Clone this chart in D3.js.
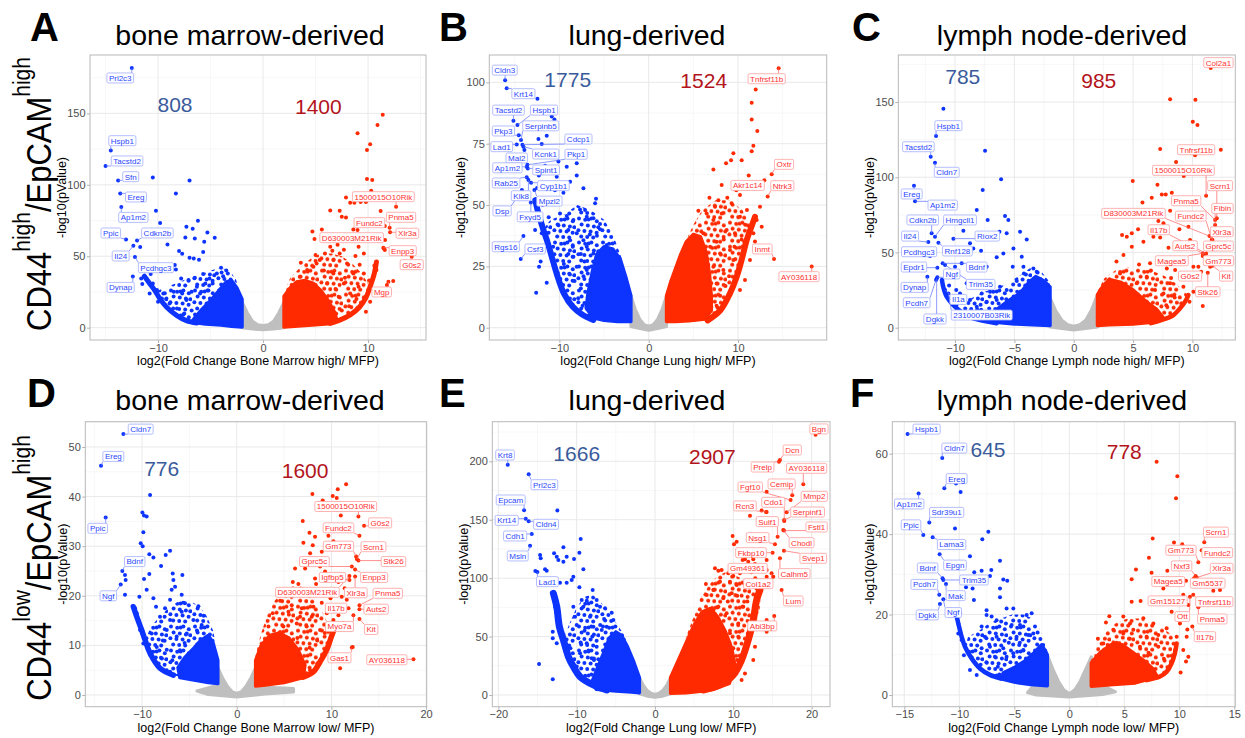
<!DOCTYPE html>
<html lang="en">
<head>
<meta charset="UTF-8">
<title>Volcano panels</title>
<style>
  body { margin: 0; background: #fff; }
  svg text { font-family: "Liberation Sans", Arial, sans-serif; }
</style>
</head>
<body>
<svg id="fig" width="1245" height="738"></svg>
<script src="https://d3js.org/d3.v7.min.js"></script>
<script>
// ---------- data (x = log2 fold change, y = -log10 p) ----------
const panelTitles = ["bone marrow-derived", "lung-derived", "lymph node-derived",
                     "bone marrow-derived", "lung-derived", "lymph node-derived"];
const xTitles = ["log2(Fold Change Bone Marrow high/ MFP)", "log2(Fold Change Lung high/ MFP)",
                 "log2(Fold Change Lymph node high/ MFP)", "log2(Fold Change Bone Marrow low/ MFP)",
                 "log2(Fold Change Lung low/ MFP)", "log2(Fold Change Lymph node low/ MFP)"];
const rowLabels = [["CD44", "high", "/EpCAM", "high"], ["CD44", "low", "/EpCAM", "high"]];

// count of down / up genes: [text, x, y]
const aCount = [["808", -8.38, 150.7], ["1400", 5.27, 149.6]];
const bCount = [["1775", -9.07, 98.0], ["1524", 6.16, 97.6]];
const cCount = [["785", -9.35, 162.0], ["985", 2.11, 159.5]];
const dCount = [["776", -7.92, 44.2], ["1600", 7.22, 43.7]];
const eCount = [["1666", -10.0, 200.3], ["2907", 7.32, 197.4]];
const fCount = [["645", -7.39, 59.1], ["778", 5.0, 58.8]];

// outlines: grey = not significant, halo = scattered cloud, core = solid cloud, arm = low-count ridge
// --- A
const aGrey = [[-2,18],[-1.5,10.5],[-1,4.5],[-0.5,2],[0,1.5],[0.5,2],[1,4.5],[1.5,10.5],[2,18],[2,0],[1,-1],[0,-1.5],[-1,-1],[-2,0]];
const aBlueHalo = [[-2,1],[-2,22],[-2.6,34],[-3.2,40],[-4,42],[-5,40],[-6,37],[-7,35],[-8,32],[-9,29],[-10,26],[-10.3,26],[-9.8,20],[-9.2,14.5],[-8.2,8.5],[-7.3,5],[-6.3,3.3],[-4.5,2],[-3,1.2]];
const aBlueCore = [[-2,0.5],[-2,20],[-2.5,28],[-3,33],[-3.5,32],[-4.2,26],[-5,19],[-5.8,13],[-6.5,7],[-6.8,4],[-5.5,2.5],[-4,1.8],[-3,1]];
const aBlueArm = [[-6.3,3.3],[-7.3,5],[-8.2,8.5],[-9.2,14.5],[-9.8,20],[-10.3,26],[-10.8,31],[-11.3,36]];
const aRedHalo = [[2,1],[2,25],[2.6,35],[3.5,42],[4.5,48],[5.5,52],[6.5,52],[7.5,50],[8.5,45],[9.4,38],[10.2,28.7],[9.8,21],[9.2,14.5],[8.3,9],[7.3,5.3],[6.4,3],[4.5,2],[3,1.2]];
const aRedCore = [[2,0.5],[2,22],[2.6,28],[3.2,32],[4,33],[4.8,31],[5.5,26],[6.2,19],[6.8,11],[7,6],[6.5,3],[5,2],[3,1]];
const aRedArm = [[6.4,3],[7.3,5.3],[8.3,9],[9.2,14.5],[9.8,21],[10.2,28.7],[10.6,38],[10.8,46]];
const aBluePts = [[-10.5,105.2],[-7,103.1],[-8.3,94],[-10.2,81.9],[-9.8,73.3],[-6.2,74.9],[-7.3,70.7],[-6.7,69.3],[-7.4,63.2],[-6.5,62.5],[-5.3,66.7],[-4.6,63],[-5.6,60.2],[-9.1,58.3],[-11.7,56.5],[-8,53.7],[-7.7,51.8],[-7,49],[-6.6,48.5],[-6.1,47.6],[-5.7,53],[-8.4,43.9],[-8.3,40.8],[-10.7,37.6],[-11.6,34.5],[-11.5,30.6],[-7.8,34.5],[-7.1,33.4],[-6.5,35],[-5.7,37.6],[-5.1,34.5],[-4.4,38],[-8.5,25.2],[-10.5,31],[-10.1,26.4],[-9.5,24],[-9.2,20.5],[-7.7,24],[-7.3,19.4],[-6.8,25.2],[-6.3,28.7],[-5.5,31],[-6,24],[-10.8,24],[-10,18.2],[-8.9,17],[-8.2,13.5],[-7.5,10],[-6.8,12],[-7.8,8],[-5.2,26],[-4.8,31],[-3.8,36],[-3.5,40],[-4,42]];
const aRedPts = [[11.4,149.1],[10.9,141.9],[9,136.1],[10.2,128.4],[9.9,124.4],[9.9,104.1],[10.4,103.4],[10.3,95.9],[7.9,91.2],[8.3,87.5],[8.7,87.5],[9.3,88],[9.8,88],[6.4,82.1],[7.3,81.9],[7.5,77.7],[7.9,77.2],[11.2,81.7],[8.6,68.8],[9,68.4],[4.7,67.4],[5.6,68.8],[4.9,62.1],[6.8,61.8],[7.1,58.1],[6.6,53.9],[7.7,54.6],[11.5,55.5],[11.6,54.4],[3.6,45.5],[5,50.9],[5.1,45],[8.8,50.2],[10.6,43.4],[10.8,40.4],[12.4,32.7],[11.8,29.9],[10.2,18.2],[9.8,11.2],[10,26.4],[2.9,29.6],[3.5,35.7],[4.2,40.4],[4.8,42.7],[5.4,47.4],[5.9,52],[6.4,56.7],[6.7,47.4],[7.3,52],[8,45],[8.6,38],[6.7,38],[6.1,31],[7.7,31],[9.1,28.7],[8.3,24],[7.2,21.7],[5.4,19.4],[4.6,28.7],[9.6,38],[8.1,61.4],[9.1,56.7],[9.6,52],[7.5,12],[8.2,15],[6.5,14],[7.8,35],[9.2,44],[10.1,33],[5.8,40],[6.9,27],[8.9,20]];
// [gene, point x, point y, label x, label y]
const aBlueLab = [["Prl2c3",-12.5,181.8,-13.6,174.8],["Hspb1",-14.5,124.1,-13.4,130.9],["Tacstd2",-15,113.2,-12.95,116.7],["Sfn",-13.8,103.1,-12.6,105.7],["Ereg",-13.6,94,-12.1,91.5],["Ap1m2",-13.5,84.5,-12.35,77.2],["Ppic",-13.05,61.8,-14.5,66.3],["Cdkn2b",-12,61.1,-10.06,66.3],["Il24",-12.35,57.4,-13.56,50.2],["Pcdhgc3",-12.2,49.5,-10.2,42],["Dynap",-12.4,35.9,-13.56,28.2]];
const aRedLab = [["1500015O10Rik",12.67,84.7,11.46,91.7],["Fundc2",11.6,71.2,10.13,73.5],["Pnma5",12.06,70,13.14,77.3],["Xlr3a",12.1,66.8,13.75,66.1],["D630003M21Rik",11.62,61.4,8.44,63],["Enpp3",11.46,56,13.3,53.9],["G0s2",14.16,49.7,14.16,44.1],["Mgp",11.94,32.2,11.3,25]];

// --- B
const bGrey = [[-2,13],[-1.5,7.5],[-1,3.5],[-0.5,1.2],[0,0.6],[0.5,1.2],[1,3.5],[1.5,7.5],[2,13],[2,0.5],[1,-0.3],[0,-1],[-1,-0.3],[-2,0.5]];
const bBlueHalo = [[-2,2],[-2,15],[-3,28],[-4,38],[-5,44],[-6.5,48],[-8,50],[-9.5,46],[-11,44],[-11.8,40],[-11.3,35],[-10.86,29],[-10.3,22],[-9.5,14],[-8.5,8.5],[-7.5,5.5],[-6.2,3.2],[-4,2.5]];
const bBlueCore = [[-2,2.5],[-2,13],[-2.6,21],[-3.2,28],[-4,32],[-5,33],[-5.8,30],[-6.3,23],[-6.8,14],[-7,8],[-6.2,4],[-5,3],[-3.5,2.5]];
const bBlueArm = [[-6.2,3.2],[-7.5,5.5],[-8.5,8.5],[-9.5,14],[-10.3,22],[-10.86,29],[-11.3,34.5],[-11.8,40],[-12.35,46.6],[-12.7,52]];
const bRedHalo = [[2,2.5],[2,14],[3,25],[4,34],[5,42],[6,48],[7.5,52],[9,52],[10.5,48],[11.5,41.2],[10.97,35.7],[10.4,27.6],[9.85,20.8],[9.1,14],[8,7],[6.6,3],[4.5,2.8]];
const bRedCore = [[2,2.5],[2,13],[2.5,19],[3,24],[3.6,30],[4.2,35],[5,38],[5.8,37],[6.4,31],[6.8,22],[7,13],[7,7],[6.3,3.5],[4.5,2.8],[3,2.5]];
const bRedArm = [[6.6,3],[8,7],[9.1,14],[9.85,20.8],[10.4,27.6],[10.97,35.7],[11.5,41.2],[11.9,45.2]];
const bBluePts = [[-12.46,93.3],[-10.86,86.1],[-10.56,84.9],[-12.35,76.9],[-11.42,78.3],[-11.98,74.9],[-10.11,67.8],[-8.06,67],[-9.18,65.6],[-10.3,61.5],[-8.06,62],[-8.8,59.5],[-9.55,55],[-7.31,56.8],[-5.9,52.6],[-6,50.7],[-7.69,48.2],[-7.13,48],[-9.93,46.6],[-9.18,45.5],[-8.43,43.9],[-6.94,45.2],[-6.19,44.6],[-5.45,42.3],[-5.45,40.1],[-10.11,41.8],[-9,39.8],[-8.06,38.5],[-7.31,35.7],[-6.94,33],[-8.8,35.7],[-12.72,39.8],[-11.98,38.5],[-12.28,24.9],[-11.42,18.3],[-12.6,14.3],[-8.43,28.9],[-6.19,30.3],[-4.7,33.7],[-4.33,31.7],[-8.06,24.9],[-6.94,23.5],[-9,30],[-8.5,33],[-7.6,30],[-7.2,27],[-8.9,22],[-8.3,19],[-7.6,16],[-7.3,21],[-9.5,26],[-7.9,12],[-7.4,9],[-6.6,38],[-5.8,37.5],[-10.7,33],[-11.2,45],[-11.9,50],[-12.5,57],[-12.3,62],[-11.6,66],[-10.5,56],[-12.1,27],[-11.8,31]];
const bRedPts = [[7.24,64.5],[8.66,67],[9.22,68.3],[9.48,71.1],[10.41,68.3],[11.53,91.7],[11.98,97.1],[11.53,84.9],[12.16,80.2],[11.72,74.2],[11.53,71.9],[8.17,58.2],[10.22,54.1],[9.29,50.7],[7.43,49.3],[5.56,47.7],[6.49,46.6],[7.24,43.9],[8.17,46.6],[8.73,39.8],[9.66,38.5],[10.22,45.2],[12.09,43.9],[12.65,41.2],[12.46,49.3],[11.72,38.5],[11.9,35.1],[6.12,38.5],[6.87,33],[7.99,30.3],[9.1,31.7],[7.24,24.9],[8.36,23.5],[9.48,27.6],[11.34,27.6],[10.78,19.4],[10.22,15.4],[5,27.6],[4.63,24.9],[7.6,18],[8,13],[7.6,9],[8.6,17],[9,21],[6.6,28],[7.6,35],[8.4,36],[9.6,33],[10.4,36],[10.8,42],[11,48],[9.8,56],[8.8,53],[7.8,52],[6.8,53],[10.8,58],[11.2,62]];
const bBlueLab = [["Cldn3",-16.08,100.9,-16.12,105],["Krt14",-15.9,97.6,-14.03,95.4],["Tacstd2",-15.15,84.4,-15.7,88.7],["Hspb1",-14.7,82.6,-11.72,88.7],["Pkp3",-14.55,78.5,-16.27,80.2],["Serpinb5",-14.3,76.5,-12.09,82.3],["Lad1",-14.78,74.7,-16.46,73.8],["Cdcp1",-14.14,74.6,-7.87,76.9],["Kcnk1",-14.03,73.8,-11.53,70.8],["Mal2",-13.92,72.4,-14.78,69.2],["Pkp1",-13.58,66.4,-8.13,70.7],["Ap1m2",-13.66,65.6,-15.82,65.2],["Spint1",-13.54,64.9,-11.49,64.3],["Rab25",-13.66,61.3,-15.97,59],["Cyp1b1",-13.17,59.1,-10.67,57.9],["Klk8",-13.47,60.2,-14.29,53.8],["Dsp",-14.2,56.1,-16.42,47.6],["Mpzl2",-12.8,56.1,-11.12,51.6],["Fxyd5",-13.2,51,-13.28,45.2],["Rgs16",-14.03,37.4,-16,33],["Csf3",-14.33,28,-12.72,32.1]];
const bRedLab = [["Tnfrsf11b",14.55,105.8,13.21,101.5],["Oxtr",13.77,62.6,15.15,66.6],["Akr1c14",12.95,60.1,11.08,58],["Ntrk3",13.32,53.5,14.96,57.9],["Inmt",14.03,28,12.72,32.1],["AY036118",18.25,25,16.83,20.8]];

// --- C
const cGrey = [[-2,20],[-1.5,11],[-1,5],[-0.5,2],[0,1],[0.5,2],[1,5],[1.5,12],[2,22],[2,0.5],[1,-0.5],[0,-1.5],[-1,-0.5],[-2,0.5]];
const cBlueHalo = [[-2,1.5],[-2,30],[-2.8,38],[-3.6,40],[-4.5,35],[-5.5,30],[-6.5,26],[-7.5,24],[-8.5,20],[-9.5,16],[-10.3,15],[-9.3,9.5],[-8.46,6.2],[-6.5,3],[-4,2]];
const cBlueCore = [[-2,1.5],[-2,27],[-2.5,31],[-3.2,34],[-3.8,30],[-4.5,23],[-5.5,18],[-6.5,12],[-7,7],[-7,4],[-5,2.5],[-3.5,2]];
const cBlueArm = [[-6.5,3],[-8.46,6.2],[-9.3,9.5],[-10.14,15],[-10.7,20.6],[-11,27.3],[-11.1,31.7]];
const cRedHalo = [[2,1.5],[2,24],[2.6,33],[3.5,38],[4.5,40],[5.5,40],[6.5,38],[7.5,35],[8.5,30],[9.3,24],[9.66,21.7],[9.38,17.3],[8.96,12.9],[8.4,8.4],[7.56,5.5],[6.5,3],[4,2]];
const cRedCore = [[2,1.5],[2,22],[2.5,28],[3,32],[4,30],[5,25],[6,18],[7,12],[7.5,7],[7,4],[5,2.5],[3,2]];
const cRedArm = [[6.5,3],[7.56,5.5],[8.4,8.4],[8.96,12.9],[9.38,17.3],[9.66,21.7]];
const cBluePts = [[-10.98,145.6],[-7.47,117.7],[-6.12,98.6],[-7.67,91.5],[-8.17,78.2],[-7.25,71.6],[-5.79,74.2],[-5.51,71.6],[-6.26,63.8],[-5.65,62.7],[-4.52,63.8],[-3.96,58.7],[-9.3,64.5],[-8.74,56.1],[-8.46,52.7],[-7.81,51.2],[-5.08,52.7],[-4.38,47.2],[-6.49,46.8],[-5.93,49.4],[-7.33,40.5],[-5.14,40.5],[-4.24,40.5],[-3.4,39.4],[-3.12,37.2],[-10,40.5],[-9.44,42.8],[-10.14,33.9],[-9.02,29.5],[-7.75,22.8],[-7.05,23.9],[-6.21,27.3],[-5.65,25],[-6.49,18.4],[-7.33,17.3],[-8.17,14],[-8.74,18.4],[-9.58,22.8],[-8.46,9.5],[-10.5,28],[-9.9,25],[-9.2,19],[-7.8,12],[-6.9,30],[-4.8,31],[-4.2,36]];
const cRedPts = [[8.12,151.8],[10.25,151.6],[10.03,136.9],[10.42,134.7],[7.28,118.8],[12.39,118.3],[8.62,110.1],[9.27,100.8],[4.97,97.5],[7.05,95.1],[7.42,88.6],[7.75,88.6],[8.26,89.7],[5.79,83.3],[6.57,86.4],[8.12,77.8],[7.13,70.9],[7.56,69.4],[8.9,65.4],[9.66,67.1],[5.42,65.4],[4.07,61.6],[4.47,60.5],[4.89,62.7],[6.71,60.5],[7.28,60],[5.87,57.2],[4.89,53.8],[4.19,48.3],[7.98,53.2],[9.24,53.8],[9.8,58.3],[7.13,45],[6.43,42.8],[7.84,39.4],[8.54,38.3],[10.08,40.5],[10.5,40.5],[8.12,29.5],[9.24,27.3],[10.08,23.9],[9.75,17.3],[10.87,14.4],[6.15,33.9],[5.31,29.5],[3.9,36.1],[3.34,30.6],[7.56,22.8],[6.85,25],[8.5,20],[7.8,15],[6.5,38],[5.5,42],[3.6,44],[8.2,33]];
const cBlueLab = [["Hspb1",-11.6,127.4,-10.56,134.3],["Tacstd2",-12.05,113.7,-13.09,120.3],["Cldn7",-11.69,109.7,-10.7,103.3],["Ereg",-13.46,94.4,-13.65,88.9],["Ap1m2",-13.37,84,-11.04,81.5],["Cdkn2b",-11.97,62.7,-12.72,71.6],["Hmgcll1",-11.69,60.5,-9.58,71.6],["Il24",-12.25,56.9,-13.79,60.9],["Riox2",-10.14,59.2,-7.28,60.9],["Pcdhgc3",-12.11,47.6,-13.03,50.5],["Rnf128",-11.4,56.5,-9.8,51],["Epdr1",-11.49,39.9,-13.46,40.3],["Bdnf",-11.04,42.8,-8.17,40.3],["Ngf",-11.49,33.5,-10.28,35.7],["Trim35",-10.84,41.7,-7.84,28.8],["Dynap",-12.33,33.9,-13.4,26.8],["Pcdh7",-11.6,31.7,-13.23,16.6],["Il1a",-10.84,25,-9.72,18.8],["2310007B03Rik",-10.56,22.8,-7.75,8.4],["Dgkk",-11.55,32.5,-11.69,5.8]];
const cRedLab = [["Col2a1",11.54,172.6,12.19,176.2],["Tnfrsf11b",10.22,114.6,10.31,118.3],["1500015O10Rik",11.15,87.7,9.24,104.6],["Scrn1",12.05,72.7,12.33,94.4],["Pnma5",11.91,71.6,9.47,84.4],["Fibin",11.91,68.2,12.53,79.3],["D830003M21Rik",11.43,60.9,5.03,76],["Fundc2",11.63,58.7,9.86,74.2],["Il17b",11.15,49.4,7.16,65.1],["Xlr3a",11.69,58.3,12.47,63.8],["Auts2",11.01,49,9.38,54.5],["Gprc5c",10.87,47.6,12.19,54.3],["Magea5",10.87,49.4,8.26,44.5],["Gm773",11.49,40.5,12.19,44.5],["G0s2",10.73,37.2,9.8,34.3],["Kit",11.69,41.2,12.84,34.3],["Stk26",11.29,36.6,11.29,23.9]];

// --- D
const dGrey = [[-4.2,0.8],[-2,2],[-2,5.5],[-1.5,3.5],[-1,1.8],[-0.5,0.7],[0,0.3],[0.5,0.7],[1,1.8],[1.5,3.5],[2,5.5],[2,1.8],[4,1.5],[6,1.3],[6,0.6],[3,0.2],[0,-0.4],[-3,0.1]];
const dBlueHalo = [[-2,2.3],[-2,8],[-2.5,13],[-3.2,16],[-4,18],[-5,19],[-6,19],[-7,18],[-8,16],[-9,14],[-9.68,11.1],[-9.15,8.4],[-8.1,5.4],[-6.69,4],[-4.5,3]];
const dBlueCore = [[-2,2.3],[-2,7],[-2.5,10.5],[-3,12],[-3.8,11],[-4.5,9.5],[-5.5,7.5],[-6.2,5.5],[-6,3.5],[-4.5,3],[-3,2.5]];
const dBlueArm = [[-6.69,4],[-8.1,5.4],[-9.15,8.4],[-9.68,11.1],[-10.04,13.1],[-10.56,15.8],[-10.92,17.8]];
const dRedHalo = [[2,1.8],[2,8],[2.5,12],[3.2,16],[4,19],[5,21],[6,22],[7,22],[8,20],[9,17],[9.7,14],[10.2,12.8],[10,11.8],[9.5,9.1],[8.8,6.7],[8.1,4.7],[7,3.6],[5,2.5]];
const dRedCore = [[2,1.8],[2,7],[2.6,10],[3.5,12],[4.5,12.5],[5.5,11.5],[6.5,9],[7.2,6],[7,3.5],[5,2.5],[3,2]];
const dRedArm = [[7,3.6],[8.1,4.7],[8.8,6.7],[9.5,9.1],[10,11.8],[10.2,12.8]];
const dBluePts = [[-9.15,40.3],[-9.96,36.8],[-9.79,36.2],[-9.51,36],[-9.86,32.8],[-10.14,30.6],[-9.93,30],[-9.23,28.4],[-8.8,27.7],[-7.5,28.2],[-7.04,29.1],[-7.99,26],[-11.8,24.2],[-11.73,23.2],[-11.8,20.2],[-9.23,24.4],[-6.76,24.5],[-5.74,24.2],[-9.79,23.4],[-6.69,23.2],[-6.87,21.2],[-6.51,21.8],[-9.51,21.2],[-10.28,19.8],[-8.8,19.5],[-8.52,17.8],[-7.57,17.5],[-7.04,19.2],[-5.81,20.2],[-5.46,18.5],[-4.05,17.9],[-5.81,16.8],[-10.74,17.5],[-10.56,16.5],[-10.39,15.1],[-8.1,15.8],[-7.04,15.1],[-4.58,15.1],[-3.7,14.1],[-10.21,13.1],[-8.98,12.4],[-7.39,13.1],[-6.34,11.8],[-5.28,12.4],[-9.86,10.4],[-8.45,9.7],[-7.39,9.1],[-9.15,8.1],[-8.45,6.4],[-7.39,5],[-7.04,4.7],[-6,9],[-6.8,7],[-5.5,10.5],[-4.2,13],[-3.5,16],[-7.8,11],[-8,7.5]];
const dRedPts = [[11.55,42.5],[10.67,41.5],[10.14,40.1],[10.56,39.7],[7.99,40.5],[9.08,39.2],[10.99,36.2],[6.97,35.1],[7.68,32.7],[8.27,31.9],[9.68,32.1],[10.21,31],[7.04,30.7],[8.03,30.2],[8.98,28.9],[7.75,28.6],[6.16,25.5],[7.22,25.5],[8.8,25.9],[9.33,24.9],[5.92,22.8],[6.51,22.4],[8.27,23.5],[8.38,22.4],[7.04,21.2],[7.57,20.2],[8.8,21.2],[10.74,22.8],[11.09,19.8],[11.62,19.2],[4.58,19],[5.81,18.1],[6.87,17.5],[8.1,17.8],[8.98,18.6],[3.8,16.5],[5.46,16.8],[6.69,15.8],[7.92,15.8],[9.51,16.5],[10.21,15.1],[10.74,16.1],[3.35,13.8],[4.93,13.8],[6.34,14.4],[7.39,13.8],[8.8,13.1],[12.25,9.7],[10.92,5.4],[7.75,5],[8.5,11],[9.3,12.5],[10.6,13.5],[11.2,14.5],[7.7,9.5],[6.4,11.5],[9.9,19.5],[11.4,21.5]];
const dBlueLab = [["Cldn7",-11.97,52.6,-10.14,53.6],["Ereg",-14.33,46.2,-13.03,48.1],["Ppic",-13.84,35.8,-14.68,33.6],["Bdnf",-12.08,25,-10.77,26.9],["Ngf",-12.25,22.3,-13.56,20]];
const dRedLab = [["1500015O10Rik",12.85,36,11.51,38],["G0s2",13.45,34.1,15.14,34.7],["Fundc2",12.96,32.1,10.74,33.7],["Gm773",12.61,27.9,10.74,30],["Scrn1",12.68,27.4,14.44,29.9],["Stk26",12.85,27.1,16.55,26.9],["Gprc5c",12.15,25.9,8.2,26.9],["Enpp3",12.5,25.3,14.51,23.7],["Igfbp5",11.9,23.2,10.11,23.7],["D630003M21Rik",11.9,24,7.46,20.7],["Xlr3a",12.5,23.9,12.57,20.6],["Pnma5",12.96,18.1,15.95,20.5],["Il17b",11.8,17.5,10.49,17.5],["Auts2",12.96,17.3,14.72,17.3],["Myo7a",12.32,16.1,10.85,13.8],["Kit",12.96,15.3,14.19,13.2],["Gas1",12.15,9.6,10.85,7.5],["AY036118",18.66,7.2,15.85,7.1]];

// --- E
const eGrey = [[-2,15],[-1.5,8.5],[-1,4],[-0.5,1.5],[0,0.5],[0.5,1.5],[1,4],[1.5,8.5],[2,15],[2,1],[1,-1],[0,-2],[-1,-1],[-2,1]];
const eBlueHalo = [[-2,2],[-2,15],[-3,35],[-4,52],[-5,62],[-6,72],[-7,80],[-8,86],[-9,84],[-10,75],[-11,60],[-11.7,47.1],[-11.06,32.8],[-10.43,24.3],[-9.57,15.7],[-7.87,8.6],[-6.17,4.3],[-4,3]];
const eBlueCore = [[-2,2],[-2,15],[-2.7,28],[-3.5,41],[-4.3,51],[-5,54],[-5.8,49],[-6.5,37],[-7.3,24],[-8,12],[-7.5,5],[-5,3.5],[-3,2.5]];
const eBlueArm = [[-6.17,4.3],[-7.87,8.6],[-9.57,15.7],[-10.43,24.3],[-11.06,32.8],[-11.7,47.1],[-12.21,58.5],[-12.55,75.6],[-12.98,87]];
const eRedHalo = [[2,1.5],[2,15],[3,32],[4,50],[5,68],[6,85],[7,95],[8,102],[9,105],[10,103],[11,100],[12,95],[13,92],[13.6,90],[13.4,75],[12.9,60],[12.2,45],[11.4,30],[10.5,18],[9,9],[7.5,5],[5,3]];
const eRedCore = [[2,1.5],[2,15],[3,30],[4,45],[5,60],[6,71],[7,74],[8,67],[9,54],[9.8,40],[10.2,25],[9.5,10],[7.5,5],[5.5,3],[4,2]];
const eRedArm = [[6.17,4.3],[8.3,8.6],[10,17.1],[11.06,30],[11.91,47.1],[12.55,64.2],[12.98,81.3],[13.4,89.9]];
const eBluePts = [[-12.47,157.8],[-9.49,133.5],[-11.7,126.4],[-9.66,121.8],[-12.89,121.3],[-12.55,118.4],[-12.34,115.5],[-11.7,114.1],[-11.28,118.4],[-10.34,116.4],[-9.15,107.6],[-14.68,119.8],[-14.6,117],[-14.04,107.6],[-13.83,106.4],[-15.28,106.1],[-12.13,96.1],[-11.28,96.1],[-10.64,98.4],[-10.43,101.3],[-9.66,92.2],[-7.96,89.9],[-9.36,81.3],[-8.72,80.7],[-7.45,81.3],[-7.02,75.6],[-6.38,74.2],[-5.53,70.5],[-5.32,64.2],[-9.15,75.6],[-8.3,67],[-10.43,75.6],[-10.21,67],[-12.98,87],[-12.77,75.6],[-12.55,69.9],[-12.13,58.5],[-13.06,54.2],[-13.06,48.5],[-12.55,44.2],[-11.49,45.6],[-14.81,26.5],[-13.06,13.4],[-7.87,58.5],[-6.81,55.6],[-6.17,58.5],[-8.72,44.2],[-7.45,41.4],[-9.57,35.7],[-8.09,31.4],[-10,24.3],[-7,60],[-6.5,65],[-8,50],[-9,55],[-10,60],[-9.5,45],[-8.5,38],[-10.8,40],[-7.8,30],[-6.8,22]];
const eRedPts = [[9.91,136.1],[10.43,131.2],[10.09,129],[12.13,153.5],[13.62,157.8],[14.17,156.6],[14.26,174],[11.19,115.5],[11.49,116.1],[11.91,114.1],[12.55,116.1],[12.77,112.1],[14.26,115.5],[7.66,108.4],[8.09,106.4],[8.51,107],[9.36,104.1],[10,101.9],[10.85,104.1],[9.57,97],[10.43,94.2],[8.3,97],[7.45,89.9],[6.6,85.6],[8.72,82.7],[9.79,87],[11.28,75.6],[5.96,81.3],[7.45,72.8],[9.15,69.9],[10.64,61.3],[6.6,61.3],[8.3,58.5],[9.57,52.8],[10.64,49.9],[14.26,64.2],[14.26,54.2],[12.77,41.4],[12.55,30],[11.49,18.5],[11.06,12.8],[14.26,101.3],[15.11,101.3],[7,55],[8.5,45],[9,35],[10,40],[10.5,30],[7.5,90],[6.5,95],[8,75],[9.3,80],[10.5,85],[11.5,95],[12.3,105],[12.8,100],[13.5,108],[11.8,80]];
const eBlueLab = [["Krt8",-18.81,197.1,-19.15,205.4],["Prl2c3",-16.13,188.9,-14.13,180],["Epcam",-16.72,158.1,-18.43,166.9],["Krt14",-16.51,150.9,-18.94,149.5],["Cldn4",-16.13,148.6,-13.91,146.1],["Cdh1",-15.74,137.8,-17.87,136.1],["Msln",-15.96,127.8,-17.53,119],["Lad1",-15.02,105.3,-13.74,97]];
const eRedLab = [["Bgn",20.51,222.8,20.94,227.7],["Dcn",15.96,201.1,17.53,209.7],["Prelp",15.83,199.7,13.74,195.1],["AY036118",18.94,180.3,19.36,194],["Cemip",17.53,170.9,16.17,180.6],["Fgf10",17.32,166.9,12.17,178],["Mmp2",16.81,156.3,20.34,170],["Cdo1",16.51,148.9,15.11,164.9],["Rcn3",14.26,156.6,11.49,161.8],["Serpinf1",16.51,149.8,19.49,156.6],["Sulf1",15.66,135.5,14.34,148.4],["Fstl1",16.47,140.7,20.64,143.8],["Nsg1",15.32,129,13.11,134.7],["Chodl",16.38,141.2,18.72,130.4],["Fkbp10",15.02,121.8,12.26,121.8],["Svep1",16.47,123.5,20.21,117],["Gm49361",14.26,107,11.83,108.4],["Calhm5",15.96,117,17.79,103.9],["Col1a2",14.89,104.1,13.19,95.3],["Lum",16.17,89.9,17.66,80.5],["Abi3bp",15.23,67.6,13.7,59.1]];

// --- F
const fGrey = [[-3.8,0.6],[-3.3,2.2],[-2,2.4],[-2,10],[-1.5,6.5],[-1,3.5],[-0.5,1.3],[0,0.3],[0.5,1.3],[1,3.5],[1.5,6.5],[2,9.5],[2,2.2],[3.3,2],[4.2,0.8],[3,0.1],[0,-0.5],[-3,0]];
const fBlueHalo = [[-2,2.3],[-2,11],[-2.6,16],[-3.3,19],[-4.2,20],[-5.2,20],[-6.2,19],[-7.2,18],[-8.2,16],[-9.2,14.5],[-9.48,12],[-8.88,9.1],[-8.12,6.6],[-7.21,5],[-6.21,4.1],[-4,2.8]];
const fBlueCore = [[-2,2.3],[-2,10],[-2.5,12.5],[-3.2,10.5],[-4,8.5],[-5,6.8],[-6,5.5],[-6.2,4],[-5,3.2],[-3.5,2.6]];
const fBlueArm = [[-6.21,4.1],[-7.21,5],[-8.12,6.6],[-8.88,9.1],[-9.48,12],[-9.79,14.5],[-10.09,17.8],[-10.3,20.3]];
const fRedHalo = [[2,2.2],[2,9],[2.6,13],[3.4,16],[4.3,18],[5.3,19],[6.3,19],[7.3,18],[8.3,17],[9.3,15],[9.76,12.8],[9.6,10.4],[9.3,7.9],[8.85,5.8],[8.24,4.6],[7.03,3.7],[5,2.8]];
const fRedCore = [[2,2.2],[2,8],[2.8,10.5],[3.8,12.5],[4.8,12.5],[5.8,10.5],[6.8,8.5],[7.6,6.5],[8,4.5],[6,3],[4,2.6]];
const fRedArm = [[7.03,3.7],[8.24,4.6],[8.85,5.8],[9.3,7.9],[9.6,10.4],[9.76,12.8]];
const fBluePts = [[-9.88,50.5],[-10.3,52.6],[-10.39,41.4],[-7.36,40.6],[-7.91,38.7],[-9.03,34.5],[-8.64,30.5],[-7.97,30.9],[-7.09,31.1],[-7.21,29.6],[-6.3,33.4],[-6,28.7],[-5.64,28.4],[-6.3,26.5],[-6.3,24.3],[-9.39,26.8],[-8.79,26.5],[-8.67,23.6],[-7.52,21.1],[-7.52,19.9],[-7.06,19.5],[-6.61,18.6],[-5.7,21.5],[-5.09,21.5],[-3.88,19.9],[-3.42,20.3],[-5.76,17.8],[-5.24,17.4],[-4.48,17.4],[-7.97,17],[-7.67,14.5],[-6.61,14.5],[-4.79,14.5],[-3.73,14.9],[-3.27,15.3],[-7.97,11.6],[-7.21,12],[-6,11.6],[-6.76,9.5],[-5.7,9.5],[-5.09,10.4],[-4.18,11.2],[-9.94,20.3],[-10.09,17.8],[-10.09,15.3],[-9.79,13.7],[-9.58,9.9],[-9.03,6.2],[-8.42,5],[-6.5,7],[-7.5,8],[-4.5,13],[-5.5,13]];
const fRedPts = [[7.94,58],[9.82,54.4],[9.7,48.9],[7.58,38.9],[9.52,37.9],[10.27,37.5],[7.24,34.1],[6.06,31.2],[7.48,30.4],[8.91,30.9],[5.67,28.8],[8.55,26.5],[10.36,24.9],[13.09,25.9],[13.7,26.1],[5.67,23.2],[6.48,23.4],[8.55,23.8],[9.3,20.7],[10.06,17.8],[10.73,16.3],[3.64,19.6],[3.33,18],[4.91,19.5],[5.52,17.8],[6.73,19.1],[7.64,17.8],[8.85,16.6],[9.76,14.5],[10.67,14.5],[4,16.2],[4.91,15.3],[5.82,16.2],[7.03,14.5],[8.09,14.9],[3.09,12.8],[4.3,13],[6.42,12],[8.09,12],[9.61,11.2],[10.36,11.2],[10.82,9.5],[10.61,8.3],[10.12,5.6],[7.2,10.5],[8.6,9],[5.5,14],[2.6,14]];
const fBlueLab = [["Hspb1",-14.7,64.9,-12.97,66.1],["Cldn7",-11.55,58.9,-10.45,61.4],["Ereg",-11.36,51.4,-10.24,53.8],["Ap1m2",-13.7,50.1,-14.55,47.5],["Sdr39u1",-12.73,42.9,-11.15,45.4],["Ppic",-13.27,39.8,-14.39,42.3],["Lama3",-12.42,39.2,-10.7,37.4],["Bdnf",-11.52,29,-12.88,31.6],["Epgn",-11.79,35,-10.39,32.3],["Trim35",-11.45,28.6,-8.67,28.6],["Pcdh7",-11.82,24.9,-13.18,27.5],["Mak",-11.21,27.6,-10.33,24.7],["Dgkk",-11.76,22.6,-12.91,19.9],["Ngf",-11.45,23.8,-10.55,20.5]];
const fRedLab = [["Scrn1",12.27,38,13.33,40.5],["Gm773",11.73,33,10.15,36],["Fundc2",12.03,36,13.45,35.4],["Nxf3",11.48,29.6,10.21,32.1],["Xlr3a",11.58,29.2,13.85,31.5],["Magea5",10.61,28.4,9,28.2],["Gm5537",11.33,29,12.58,27.8],["Gm15127",10.82,22.4,8.94,23.4],["Tnfrsf11b",11.27,24.9,13.18,23.2],["Ott",10.97,24.4,10.27,19.5],["Pnma5",11.73,21.8,13,18.9],["Il17b",11.18,17,12.33,14.5]];

// ---------- layout ----------
const BLUE = "#0d34ff", RED = "#ff2a00", GREY = "#bfbfbf";
const labStyle = {
  blue: { text: "#2a46ff", box: "#a3adff", seg: "#5a70ff" },
  red:  { text: "#ff3030", box: "#ffa0a0", seg: "#ff6060" }
};

const panels = [
  { key: "A", box: [90, 55, 426, 340], xd: [-16.48, 15.52], yd: [-8.61, 190.87], xt: [-10, 0, 10], yt: [0, 50, 100, 150],
    tx: 250, ty: 45, lx: 30, ly: 40.7, ylabX: 66, armW: 5,
    grey: aGrey, bh: aBlueHalo, bc: aBlueCore, ba: aBlueArm, rh: aRedHalo, rc: aRedCore, ra: aRedArm, bp: aBluePts, rp: aRedPts, bl: aBlueLab, rl: aRedLab, n: aCount },
  { key: "B", box: [489.3, 55, 826.7, 340], xd: [-17.85, 19.93], yd: [-5.01, 111.17], xt: [-10, 0, 10], yt: [0, 25, 50, 75, 100],
    tx: 647, ty: 45, lx: 439, ly: 40.7, ylabX: 465, armW: 6,
    grey: bGrey, bh: bBlueHalo, bc: bBlueCore, ba: bBlueArm, rh: bRedHalo, rc: bRedCore, ra: bRedArm, bp: bBluePts, rp: bRedPts, bl: bBlueLab, rl: bRedLab, n: bCount },
  { key: "C", box: [898.3, 55, 1235.3, 340], xd: [-14.78, 13.61], yd: [-8.18, 181.27], xt: [-10, -5, 0, 5, 10], yt: [0, 50, 100, 150],
    tx: 1062, ty: 45, lx: 852, ly: 40.7, ylabX: 874, armW: 4.5,
    grey: cGrey, bh: cBlueHalo, bc: cBlueCore, ba: cBlueArm, rh: cRedHalo, rc: cRedCore, ra: cRedArm, bp: cBluePts, rp: cRedPts, bl: cBlueLab, rl: cRedLab, n: cCount },
  { key: "D", box: [85.3, 421.7, 426.7, 706.7], xd: [-15.99, 20.06], yd: [-2.36, 55.1], xt: [-10, 0, 10, 20], yt: [0, 10, 20, 30, 40, 50],
    tx: 250, ty: 410, lx: 27, ly: 406.7, ylabX: 67, armW: 5.5,
    grey: dGrey, bh: dBlueHalo, bc: dBlueCore, ba: dBlueArm, rh: dRedHalo, rc: dRedCore, ra: dRedArm, bp: dBluePts, rp: dRedPts, bl: dBlueLab, rl: dRedLab, n: dCount },
  { key: "E", box: [492.3, 421.7, 830, 706.7], xd: [-20.78, 22.35], yd: [-10.01, 233.9], xt: [-20, -10, 0, 10, 20], yt: [0, 50, 100, 150, 200],
    tx: 647, ty: 410, lx: 439, ly: 406.7, ylabX: 468, armW: 7,
    grey: eGrey, bh: eBlueHalo, bc: eBlueCore, ba: eBlueArm, rh: eRedHalo, rc: eRedCore, ra: eRedArm, bp: eBluePts, rp: eRedPts, bl: eBlueLab, rl: eRedLab, n: eCount },
  { key: "F", box: [892.3, 421.7, 1235.3, 706.7], xd: [-16.09, 15.09], yd: [-2.91, 67.95], xt: [-15, -10, -5, 0, 5, 10, 15], yt: [0, 20, 40, 60],
    tx: 1062, ty: 410, lx: 850, ly: 406.7, ylabX: 874, armW: 4.5,
    grey: fGrey, bh: fBlueHalo, bc: fBlueCore, ba: fBlueArm, rh: fRedHalo, rc: fRedCore, ra: fRedArm, bp: fBluePts, rp: fRedPts, bl: fBlueLab, rl: fRedLab, n: fCount }
];

const svg = d3.select("#fig");

// speckle fills for the scattered part of each cloud (irregular dot tile)
const defs = svg.append("defs");
const speckle = [[3,2.6],[9.2,3.8],[15.4,2.4],[20.8,5.2],[5.6,8.6],[11.8,9.4],[17.9,10.6],[2.4,14.2],
                 [8.4,14.9],[14.6,15.6],[20.6,16.8],[5.2,20.4],[11.2,21.1],[17.2,21.6],[22.3,11.2],[12.6,3.6]];
[["speckBlue", BLUE, 0], ["speckRed", RED, 7]].forEach(([id, c, off]) => {
  const pat = defs.append("pattern").attr("id", id).attr("patternUnits", "userSpaceOnUse")
    .attr("width", 24).attr("height", 24).attr("patternTransform", `translate(${off},${off * 0.6})`);
  speckle.forEach(([cx, cy]) => {
    pat.append("circle").attr("cx", cx).attr("cy", cy).attr("r", 2).attr("fill", c);
  });
});

function minorTicks(t, dom) {
  const s = t[1] - t[0], out = [];
  for (let v = t[0] - s * 10 + s / 2; v < dom[1]; v += s) if (v > dom[0]) out.push(v);
  return out;
}

function drawPanel(p, i) {
  const [x0, y0, x1, y1] = p.box;
  const x = d3.scaleLinear().domain(p.xd).range([x0, x1]);
  const y = d3.scaleLinear().domain(p.yd).range([y1, y0]);
  const g = svg.append("g");

  const clipId = "clip" + p.key;
  svg.append("clipPath").attr("id", clipId)
    .append("rect").attr("x", x0).attr("y", y0).attr("width", x1 - x0).attr("height", y1 - y0);

  // grid
  g.selectAll(".mx").data(minorTicks(p.xt, p.xd)).join("line")
    .attr("x1", d => x(d)).attr("x2", d => x(d)).attr("y1", y0).attr("y2", y1)
    .attr("stroke", "#f2f2f2").attr("stroke-width", 0.6);
  g.selectAll(".my").data(minorTicks(p.yt, p.yd)).join("line")
    .attr("y1", d => y(d)).attr("y2", d => y(d)).attr("x1", x0).attr("x2", x1)
    .attr("stroke", "#f2f2f2").attr("stroke-width", 0.6);
  g.selectAll(".gx").data(p.xt).join("line")
    .attr("x1", d => x(d)).attr("x2", d => x(d)).attr("y1", y0).attr("y2", y1)
    .attr("stroke", "#e6e6e6").attr("stroke-width", 0.9);
  g.selectAll(".gy").data(p.yt).join("line")
    .attr("y1", d => y(d)).attr("y2", d => y(d)).attr("x1", x0).attr("x2", x1)
    .attr("stroke", "#e6e6e6").attr("stroke-width", 0.9);

  const body = g.append("g").attr("clip-path", `url(#${clipId})`);
  const closed = d3.line().x(d => x(d[0])).y(d => y(d[1])).curve(d3.curveLinearClosed);
  const open = d3.line().x(d => x(d[0])).y(d => y(d[1])).curve(d3.curveCatmullRom);

  body.append("path").attr("d", closed(p.grey))
    .attr("fill", GREY).attr("stroke", GREY).attr("stroke-width", 3).attr("stroke-linejoin", "round");

  [[p.bh, "url(#speckBlue)"], [p.rh, "url(#speckRed)"]].forEach(([poly, f]) => {
    body.append("path").attr("d", closed(poly)).attr("fill", f);
  });
  [[p.bc, BLUE], [p.rc, RED]].forEach(([poly, c]) => {
    body.append("path").attr("d", closed(poly))
      .attr("fill", c).attr("stroke", c).attr("stroke-width", 3.5).attr("stroke-linejoin", "round");
  });
  [[p.ba, BLUE], [p.ra, RED]].forEach(([line, c]) => {
    body.append("path").attr("d", open(line))
      .attr("fill", "none").attr("stroke", c).attr("stroke-width", p.armW)
      .attr("stroke-linecap", "round").attr("stroke-linejoin", "round");
  });

  const dots = [[p.bp, BLUE], [p.rp, RED], [p.bl.map(d => [d[1], d[2]]), BLUE], [p.rl.map(d => [d[1], d[2]]), RED]];
  dots.forEach(([pts, c]) => {
    body.append("g").selectAll("circle").data(pts).join("circle")
      .attr("cx", d => x(d[0])).attr("cy", d => y(d[1])).attr("r", 2).attr("fill", c);
  });

  // border
  g.append("rect").attr("x", x0).attr("y", y0).attr("width", x1 - x0).attr("height", y1 - y0)
    .attr("fill", "none").attr("stroke", "#b8b8b8").attr("stroke-width", 1);

  // axes
  const ax = g.append("g").attr("transform", `translate(0,${y1})`)
    .call(d3.axisBottom(x).tickValues(p.xt).tickSize(3).tickSizeOuter(0).tickPadding(1).tickFormat(d3.format("d")));
  const ay = g.append("g").attr("transform", `translate(${x0},0)`)
    .call(d3.axisLeft(y).tickValues(p.yt).tickSize(3).tickSizeOuter(0).tickPadding(1.5).tickFormat(d3.format("d")));
  [ax, ay].forEach(a => {
    a.select(".domain").remove();
    a.selectAll(".tick line").attr("stroke", "#b3b3b3");
    a.selectAll(".tick text").attr("fill", "#4d4d4d").attr("font-size", 11)
      .attr("font-family", '"Liberation Sans", Arial, sans-serif');
  });

  // counts
  p.n.forEach(([txt, cx, cy], k) => {
    g.append("text").attr("x", x(cx)).attr("y", y(cy)).attr("text-anchor", "middle")
      .attr("font-size", 21).attr("fill", k === 0 ? "#3a5b9b" : "#b3141c").text(txt);
  });

  // repel-style labels
  const segL = g.append("g").attr("clip-path", `url(#${clipId})`);
  const boxL = g.append("g").attr("clip-path", `url(#${clipId})`);
  const txtL = g.append("g").attr("clip-path", `url(#${clipId})`);
  [[p.bl, labStyle.blue], [p.rl, labStyle.red]].forEach(([list, st]) => {
    list.forEach(([name, px, py, lx, ly]) => {
      const cx = x(lx), cy = y(ly);
      const t = txtL.append("text").attr("x", cx).attr("y", cy + 2.9)
        .attr("text-anchor", "middle").attr("font-size", 8).attr("fill", st.text).text(name);
      const w = t.node().getComputedTextLength() + 4, h = 10;
      const bx = cx - w / 2, by = cy - h / 2;
      const ax0 = x(px), ay0 = y(py);
      const qx = Math.max(bx, Math.min(ax0, bx + w)), qy = Math.max(by, Math.min(ay0, by + h));
      if (Math.hypot(ax0 - qx, ay0 - qy) > 3) {
        segL.append("line").attr("x1", ax0).attr("y1", ay0).attr("x2", qx).attr("y2", qy)
          .attr("stroke", st.seg).attr("stroke-width", 0.7);
      }
      boxL.append("rect").attr("x", bx).attr("y", by).attr("width", w).attr("height", h)
        .attr("rx", 1.5).attr("fill", "#fff").attr("stroke", st.box).attr("stroke-width", 0.8);
    });
  });

  // titles
  svg.append("text").attr("x", p.tx).attr("y", p.ty).attr("text-anchor", "middle")
    .attr("font-size", 28.5).attr("fill", "#000").text(panelTitles[i]);
  svg.append("text").attr("x", p.lx).attr("y", p.ly)
    .attr("font-size", 40).attr("font-weight", "bold").attr("fill", "#000").text(p.key);
  svg.append("text").attr("x", (x0 + x1) / 2).attr("y", y1 + 25).attr("text-anchor", "middle")
    .attr("font-size", 12.5).attr("fill", "#000").text(xTitles[i]);
  svg.append("text").attr("transform", `translate(${p.ylabX},${(y0 + y1) / 2}) rotate(-90)`)
    .attr("text-anchor", "middle").attr("font-size", 12.5).attr("fill", "#000").text("-log10(pValue)");
}

panels.forEach(drawPanel);

// row labels (CD44 / EpCAM status)
[[194, rowLabels[0]], [568, rowLabels[1]]].forEach(([cy, parts]) => {
  const t = svg.append("text").attr("transform", `translate(51,${cy}) rotate(-90) scale(1,1.15)`)
    .attr("text-anchor", "middle").attr("font-size", 31).attr("fill", "#000");
  t.append("tspan").text(parts[0]);
  t.append("tspan").attr("font-size", 21).attr("dy", -18).text(parts[1]);
  t.append("tspan").attr("dy", 18).text(parts[2]);
  t.append("tspan").attr("font-size", 21).attr("dy", -18).text(parts[3]);
});
</script>
</body>
</html>
